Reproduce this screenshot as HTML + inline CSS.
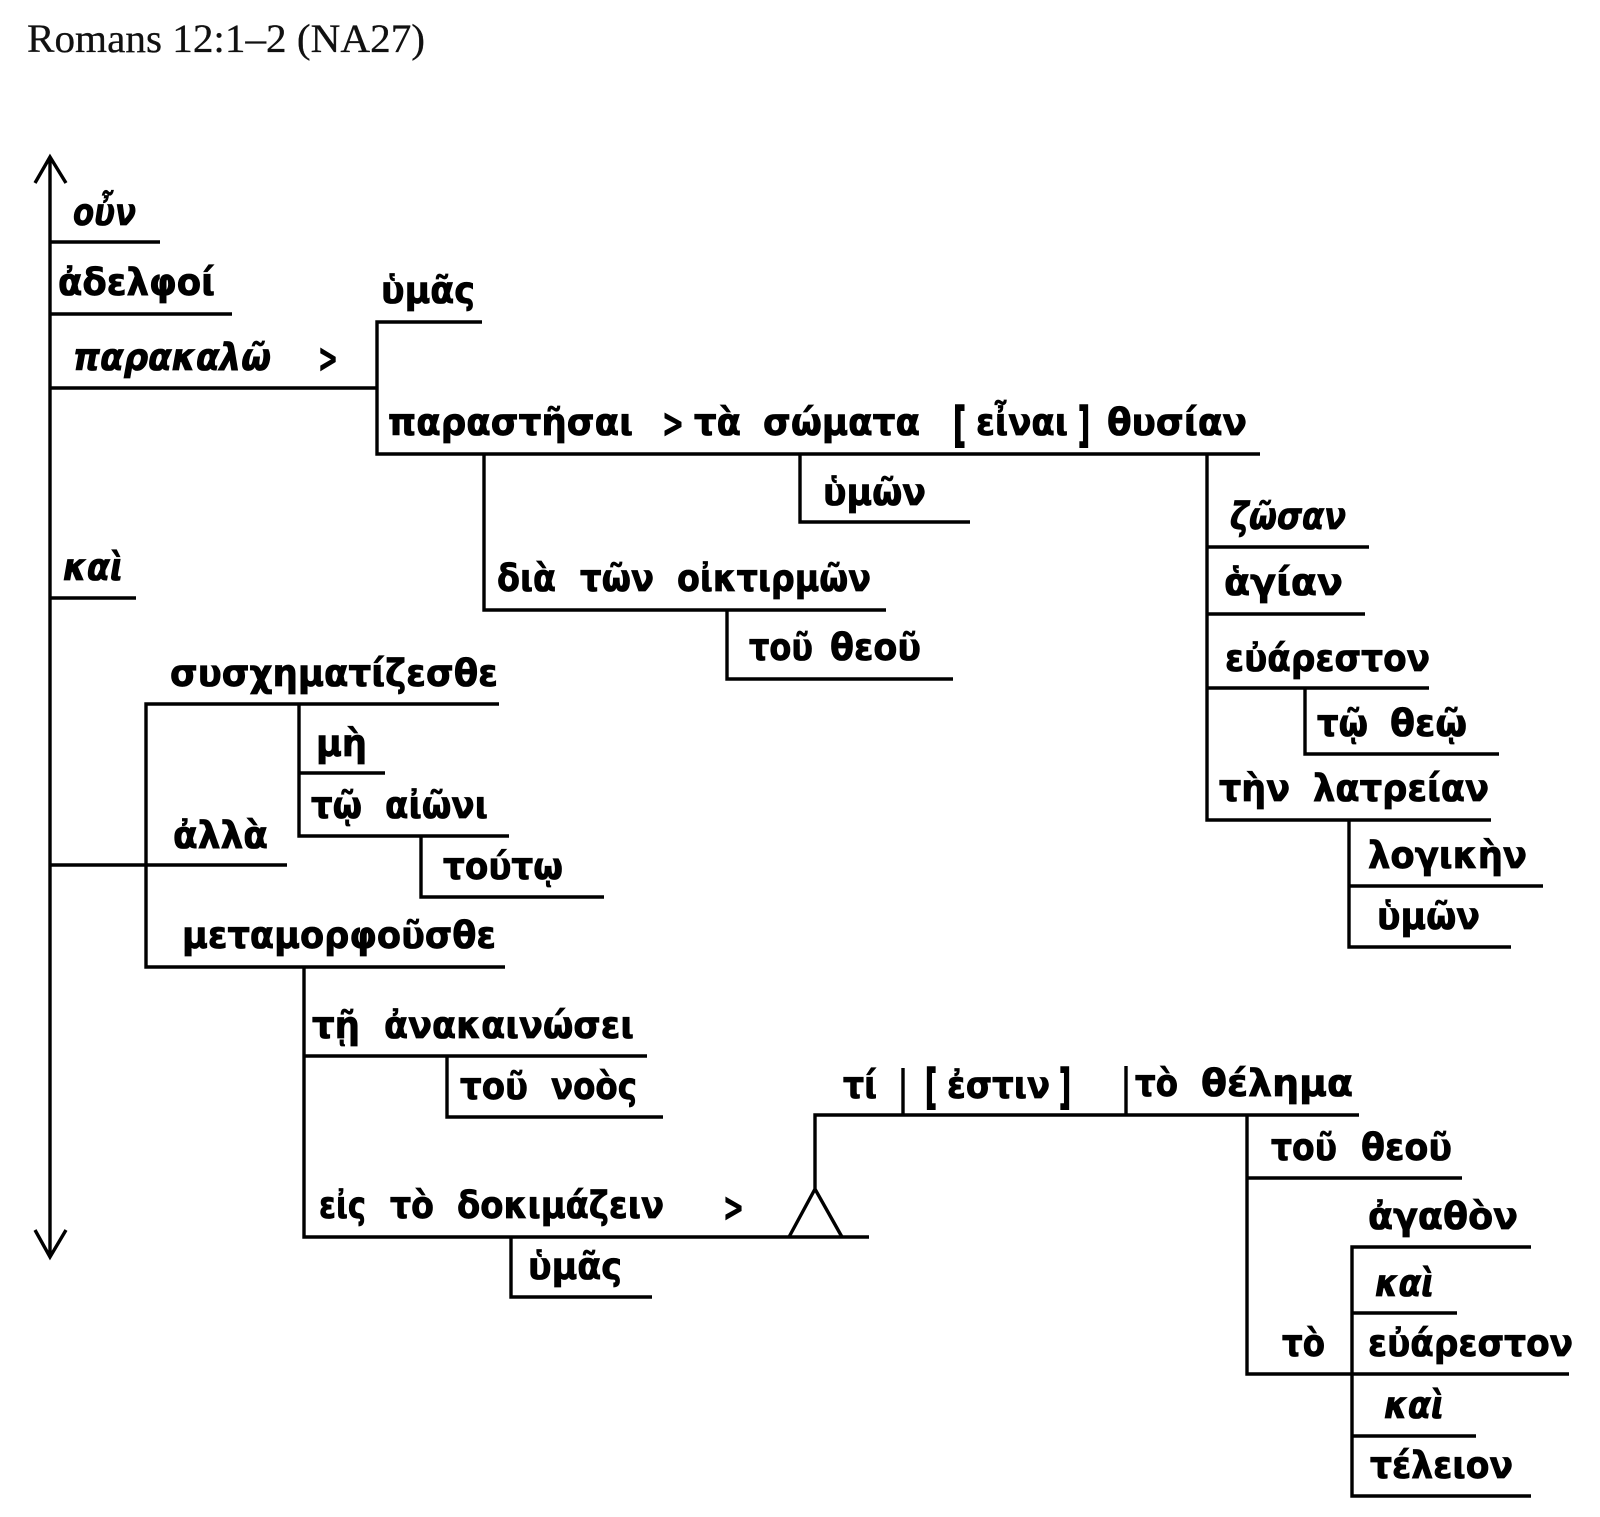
<!DOCTYPE html>
<html lang="el">
<head>
<meta charset="utf-8">
<title>Romans 12:1–2 (NA27)</title>
<style>
html,body{margin:0;padding:0;background:#fff;width:1600px;height:1517px;overflow:hidden}
svg{display:block}
text{font-family:"DejaVu Sans","Liberation Sans",sans-serif;font-weight:bold;font-size:37px;fill:#000;stroke:#000;stroke-width:.8px}
.i{font-style:italic}
.b{font-size:47px;stroke-width:1.5px}
.g{font-size:40px}
.t{font-family:"Liberation Serif","DejaVu Serif",serif;font-weight:normal;font-size:40px;fill:#111;stroke:#111;stroke-width:.3px}
</style>
</head>
<body>
<svg width="1600" height="1517" viewBox="0 0 1600 1517" xmlns="http://www.w3.org/2000/svg">
<rect width="1600" height="1517" fill="#fff"/>
<g fill="none" stroke="#000" stroke-width="3.4" stroke-linecap="butt" stroke-linejoin="miter">
<path d="M50 157V1257M35 183L50 157L66 183M35 1230L50 1257L66 1230"/>
<path d="M50 242H160M50 314H232M50 388H377M482 322H377V454H1260"/>
<path d="M484 454V610H886M727 610V679H953M800 454V522H970"/>
<path d="M1207 454V820H1491M1207 547H1369M1207 614H1365M1207 688H1429M1305 688V754H1499M1349 820V947H1511M1349 886H1543"/>
<path d="M50 598H136M50 865H287M499 704H146V967H505M299 704V836H509M299 773H385M421 836V897H604"/>
<path d="M304 967V1237H869M304 1056H647M447 1056V1117H663M511 1237V1297H652"/>
<path d="M815 1189V1115H1359M789 1237L815 1189L842 1237M903 1068V1115M1126 1066V1115"/>
<path d="M1247 1115V1374H1569M1247 1178H1462M1531 1247H1352V1496H1531M1352 1313H1457M1352 1436H1476"/>
</g>
<text class="t" x="27" y="52" textLength="398" lengthAdjust="spacingAndGlyphs">Romans 12:1–2 (NA27)</text>
<g transform="translate(0,1)">
<text class="i" x="73" y="224" textLength="63" lengthAdjust="spacingAndGlyphs">οὖν</text>
<text x="58" y="294" textLength="157" lengthAdjust="spacingAndGlyphs">ἀδελφοί</text>
<text class="i" x="73" y="369" textLength="198" lengthAdjust="spacingAndGlyphs">παρακαλῶ</text>
<text class="g" x="318" y="371" textLength="20" lengthAdjust="spacingAndGlyphs">&gt;</text>
<text x="381" y="302" textLength="94" lengthAdjust="spacingAndGlyphs">ὑμᾶς</text>

<text x="388" y="434" textLength="245" lengthAdjust="spacingAndGlyphs">παραστῆσαι</text>
<text class="g" x="662" y="436" textLength="22" lengthAdjust="spacingAndGlyphs">&gt;</text>
<text x="694" y="434" textLength="47" lengthAdjust="spacingAndGlyphs">τὰ</text>
<text x="763" y="434" textLength="157" lengthAdjust="spacingAndGlyphs">σώματα</text>
<text class="b" x="953" y="440" textLength="13" lengthAdjust="spacingAndGlyphs">[</text>
<text x="976" y="434" textLength="92" lengthAdjust="spacingAndGlyphs">εἶναι</text>
<text class="b" x="1078" y="440" textLength="12" lengthAdjust="spacingAndGlyphs">]</text>
<text x="1107" y="434" textLength="140" lengthAdjust="spacingAndGlyphs">θυσίαν</text>

<text x="823" y="504" textLength="103" lengthAdjust="spacingAndGlyphs">ὑμῶν</text>
<text x="497" y="590" textLength="59" lengthAdjust="spacingAndGlyphs">διὰ</text>
<text x="580" y="590" textLength="74" lengthAdjust="spacingAndGlyphs">τῶν</text>
<text x="677" y="590" textLength="194" lengthAdjust="spacingAndGlyphs">οἰκτιρμῶν</text>
<text x="749" y="659" textLength="64" lengthAdjust="spacingAndGlyphs">τοῦ</text>
<text x="830" y="659" textLength="91" lengthAdjust="spacingAndGlyphs">θεοῦ</text>

<text class="i" x="1230" y="528" textLength="116" lengthAdjust="spacingAndGlyphs">ζῶσαν</text>
<text x="1224" y="594" textLength="119" lengthAdjust="spacingAndGlyphs">ἁγίαν</text>
<text x="1225" y="670" textLength="205" lengthAdjust="spacingAndGlyphs">εὐάρεστον</text>
<text x="1317" y="735" textLength="51" lengthAdjust="spacingAndGlyphs">τῷ</text>
<text x="1390" y="735" textLength="77" lengthAdjust="spacingAndGlyphs">θεῷ</text>
<text x="1219" y="800" textLength="71" lengthAdjust="spacingAndGlyphs">τὴν</text>
<text x="1313" y="800" textLength="176" lengthAdjust="spacingAndGlyphs">λατρείαν</text>
<text x="1368" y="867" textLength="159" lengthAdjust="spacingAndGlyphs">λογικὴν</text>
<text x="1377" y="928" textLength="103" lengthAdjust="spacingAndGlyphs">ὑμῶν</text>

<text class="i" x="63" y="579" textLength="60" lengthAdjust="spacingAndGlyphs">καὶ</text>
<text x="170" y="685" textLength="328" lengthAdjust="spacingAndGlyphs">συσχηματίζεσθε</text>
<text x="316" y="755" textLength="51" lengthAdjust="spacingAndGlyphs">μὴ</text>
<text x="311" y="817" textLength="51" lengthAdjust="spacingAndGlyphs">τῷ</text>
<text x="385" y="817" textLength="103" lengthAdjust="spacingAndGlyphs">αἰῶνι</text>
<text x="173" y="847" textLength="95" lengthAdjust="spacingAndGlyphs">ἀλλὰ</text>
<text x="443" y="878" textLength="120" lengthAdjust="spacingAndGlyphs">τούτῳ</text>
<text x="182" y="947" textLength="314" lengthAdjust="spacingAndGlyphs">μεταμορφοῦσθε</text>
<text x="312" y="1037" textLength="48" lengthAdjust="spacingAndGlyphs">τῇ</text>
<text x="384" y="1037" textLength="250" lengthAdjust="spacingAndGlyphs">ἀνακαινώσει</text>
<text x="460" y="1098" textLength="68" lengthAdjust="spacingAndGlyphs">τοῦ</text>
<text x="551" y="1098" textLength="86" lengthAdjust="spacingAndGlyphs">νοὸς</text>
<text x="319" y="1217" textLength="47" lengthAdjust="spacingAndGlyphs">εἰς</text>
<text x="390" y="1217" textLength="44" lengthAdjust="spacingAndGlyphs">τὸ</text>
<text x="457" y="1217" textLength="207" lengthAdjust="spacingAndGlyphs">δοκιμάζειν</text>
<text class="g" x="723" y="1220" textLength="21" lengthAdjust="spacingAndGlyphs">&gt;</text>
<text x="528" y="1278" textLength="94" lengthAdjust="spacingAndGlyphs">ὑμᾶς</text>

<text x="843" y="1097" textLength="34" lengthAdjust="spacingAndGlyphs">τί</text>
<text class="b" x="925" y="1102" textLength="12" lengthAdjust="spacingAndGlyphs">[</text>
<text x="947" y="1097" textLength="103" lengthAdjust="spacingAndGlyphs">ἐστιν</text>
<text class="b" x="1059" y="1102" textLength="12" lengthAdjust="spacingAndGlyphs">]</text>
<text x="1135" y="1095" textLength="43" lengthAdjust="spacingAndGlyphs">τὸ</text>
<text x="1201" y="1095" textLength="152" lengthAdjust="spacingAndGlyphs">θέλημα</text>
<text x="1271" y="1159" textLength="66" lengthAdjust="spacingAndGlyphs">τοῦ</text>
<text x="1361" y="1159" textLength="91" lengthAdjust="spacingAndGlyphs">θεοῦ</text>
<text x="1368" y="1228" textLength="150" lengthAdjust="spacingAndGlyphs">ἀγαθὸν</text>
<text class="i" x="1375" y="1295" textLength="59" lengthAdjust="spacingAndGlyphs">καὶ</text>
<text x="1368" y="1355" textLength="205" lengthAdjust="spacingAndGlyphs">εὐάρεστον</text>
<text x="1282" y="1355" textLength="43" lengthAdjust="spacingAndGlyphs">τὸ</text>
<text class="i" x="1384" y="1417" textLength="60" lengthAdjust="spacingAndGlyphs">καὶ</text>
<text x="1370" y="1477" textLength="143" lengthAdjust="spacingAndGlyphs">τέλειον</text>
</g>
</svg>
</body>
</html>
